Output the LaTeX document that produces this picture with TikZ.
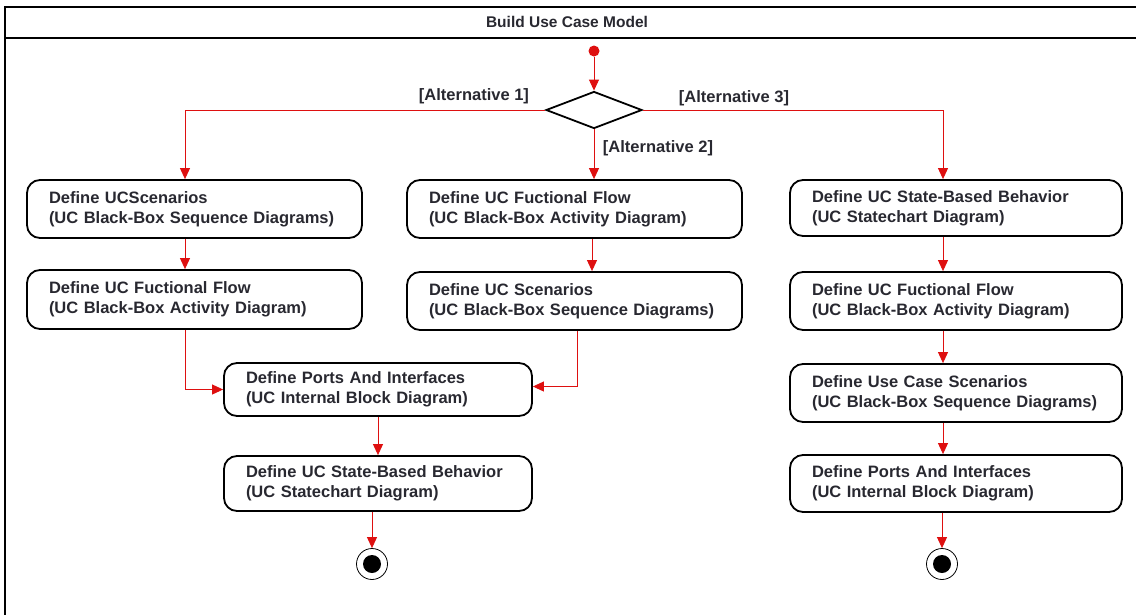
\documentclass[tikz,border=0pt]{standalone}
\usepackage{fontspec}
\setmainfont{Liberation Sans}
\usetikzlibrary{arrows.meta,shapes.geometric}
\definecolor{flowred}{RGB}{222,16,16}
\definecolor{ink}{RGB}{40,40,48}
\begin{document}
\begin{tikzpicture}[x=1pt,y=-1pt,
  flow/.style={draw=flowred, line width=0.9pt, -{Triangle[length=11pt,width=10pt]}},
  act/.style={draw=black, line width=1.8pt, rounded corners=13pt, inner xsep=22pt,
    inner ysep=0pt, align=left, text=ink,
    font=\bfseries\fontsize{16.5}{20}\selectfont},
  guard/.style={inner sep=0pt, text=ink, font=\bfseries\fontsize{16.5}{20}\selectfont},
  finalnode/.style={circle, draw=black, line width=0.8pt, minimum size=31pt, inner sep=0pt},
]
\useasboundingbox (0,0) rectangle (1136,614);
\clip (0,0) rectangle (1136,614);

% activity frame with its title bar
\draw[line width=1.6pt] (1200,7) -- (5,7) -- (5,640);
\draw[line width=1.6pt] (5,38) -- (1200,38);
\node[inner sep=0pt, text=ink, font=\bfseries\fontsize{15.5}{18}\selectfont] (title) at (567,22) {Build Use Case Model};

% start and decision
\node[circle, fill=flowred, inner sep=0pt, minimum size=11pt] (start) at (594,51) {};
\node[diamond, draw=black, line width=1.8pt, minimum width=96pt, minimum height=37pt, inner sep=0pt] (dec) at (594,110) {};

% left column
\node[act, text width=291pt, minimum height=58pt] (L1) at (194.5,209) {Define UCScenarios\\(UC Black-Box Sequence Diagrams)};
\node[act, text width=291pt, minimum height=59pt] (L2) at (194.5,299.5) {Define UC Fuctional Flow\\(UC Black-Box Activity Diagram)};

% middle column
\node[act, text width=291pt, minimum height=58pt] (M1) at (574.5,209) {Define UC Fuctional Flow\\(UC Black-Box Activity Diagram)};
\node[act, text width=291pt, minimum height=58pt] (M2) at (574.5,301) {Define UC Scenarios\\(UC Black-Box Sequence Diagrams)};

% joined steps
\node[act, text width=264pt, minimum height=53pt] (P) at (378,389.5) {Define Ports And Interfaces\\(UC Internal Block Diagram)};
\node[act, text width=264pt, minimum height=55pt] (S) at (378,483.5) {Define UC State-Based Behavior\\(UC Statechart Diagram)};

% right column
\node[act, text width=288pt, minimum height=56pt] (R1) at (956,208) {Define UC State-Based Behavior\\(UC Statechart Diagram)};
\node[act, text width=288pt, minimum height=58pt] (R2) at (956,301) {Define UC Fuctional Flow\\(UC Black-Box Activity Diagram)};
\node[act, text width=288pt, minimum height=58pt] (R3) at (956,393) {Define Use Case Scenarios\\(UC Black-Box Sequence Diagrams)};
\node[act, text width=288pt, minimum height=57pt] (R4) at (956,483.5) {Define Ports And Interfaces\\(UC Internal Block Diagram)};

% final nodes
\node[finalnode] (F1) at (372,564) {};
\fill[black] (F1) circle (9pt);
\node[finalnode] (F2) at (942,564) {};
\fill[black] (F2) circle (9pt);

% guards
\node[guard] (g1) at (474,96) {[Alternative 1]};
\node[guard] (g2) at (658,148) {[Alternative 2]};
\node[guard] (g3) at (734,98) {[Alternative 3]};

% control flows
\draw[flow] (start) -- (dec.north);
\draw[flow] (dec.west) -| ([xshift=-9.5pt]L1.north);
\draw[flow] (dec.south) -- (dec.south |- M1.north);
\draw[flow] (dec.east) -| ([xshift=-13pt]R1.north);

\draw[flow] ([xshift=-9.5pt]L1.south) -- ([xshift=-9.5pt]L2.north);
\draw[flow] ([xshift=-9.5pt]L2.south) |- (P.west);
\draw[flow] ([xshift=17.5pt]M1.south) -- ([xshift=17.5pt]M2.north);
\draw[flow] ([xshift=2.5pt]M2.south) |- ([yshift=3pt]P.east);
\draw[flow] (P) -- (S);
\draw[flow] (S.south -| F1) -- (F1);

\draw[flow] ([xshift=-13pt]R1.south) -- ([xshift=-13pt]R2.north);
\draw[flow] ([xshift=-13pt]R2.south) -- ([xshift=-13pt]R3.north);
\draw[flow] ([xshift=-13pt]R3.south) -- ([xshift=-13pt]R4.north);
\draw[flow] (R4.south -| F2) -- (F2);
\end{tikzpicture}
\end{document}
